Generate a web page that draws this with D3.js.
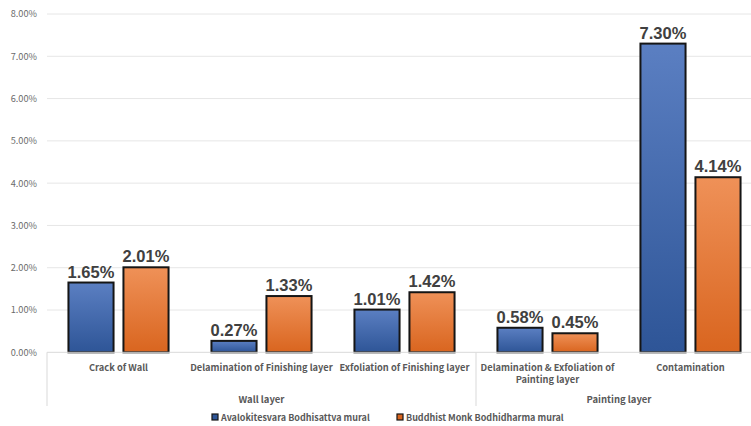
<!DOCTYPE html>
<html>
<head>
<meta charset="utf-8">
<script src="https://cdn.jsdelivr.net/npm/d3@7"></script>
<style>
  html, body { margin: 0; padding: 0; background: #fff; }
  svg { display: block; }
</style>
</head>
<body>
<svg id="chart" width="751" height="426"></svg>
<script>
// Damage ratios per category, two murals
const categories = [
  ["Crack of Wall"],
  ["Delamination of Finishing layer"],
  ["Exfoliation of Finishing layer"],
  ["Delamination & Exfoliation of", "Painting layer"],
  ["Contamination"]
];
const groups = [
  { name: "Wall layer", span: [0, 3] },
  { name: "Painting layer", span: [3, 5] }
];
const seriesNames = ["Avalokitesvara Bodhisattva mural", "Buddhist Monk Bodhidharma mural"];
const avalokitesvara = [1.65, 0.27, 1.01, 0.58, 7.30];
const bodhidharma = [2.01, 1.33, 1.42, 0.45, 4.14];
const yTicks = [0, 1, 2, 3, 4, 5, 6, 7, 8];

(function draw() {
  const series = [avalokitesvara, bodhidharma];
  const svg = d3.select("#chart");
  const labelFont = "'Noto Sans CJK KR', 'Noto Sans', sans-serif";

  const plotLeft = 47, plotRight = 762, plotTop = 14, plotBottom = 352.3;

  const x = d3.scaleBand().domain(d3.range(categories.length)).range([plotLeft, plotRight]).paddingInner(0.3).paddingOuter(0.15);
  const x1 = d3.scaleBand().domain(d3.range(series.length)).range([0, x.bandwidth()]).paddingInner(0.18);
  const y = d3.scaleLinear().domain([0, 8]).range([plotBottom, plotTop]);

  // gradients for the bars
  const defs = svg.append("defs");
  const gradStops = [
    ["#5b7fc2", "#2e5597"],
    ["#ef9158", "#d9651f"]
  ];
  gradStops.forEach((s, i) => {
    const g = defs.append("linearGradient").attr("id", "grad" + i).attr("x1", 0).attr("y1", 0).attr("x2", 0).attr("y2", 1);
    g.append("stop").attr("offset", "0%").attr("stop-color", s[0]);
    g.append("stop").attr("offset", "100%").attr("stop-color", s[1]);
  });

  // gridlines
  svg.append("g").selectAll("line").data(yTicks.filter(d => d > 0)).join("line")
    .attr("x1", plotLeft).attr("x2", 751)
    .attr("y1", d => y(d)).attr("y2", d => y(d))
    .attr("stroke", "#e6e6e6").attr("stroke-width", 1);

  // y axis labels
  const yAxis = d3.axisLeft(y).tickValues(yTicks).tickFormat(d => d.toFixed(2) + "%").tickSize(0).tickPadding(10);
  const gy = svg.append("g").attr("transform", `translate(${plotLeft},0)`).call(yAxis);
  gy.select(".domain").remove();
  gy.selectAll("text").attr("fill", "#6b6b6b").style("font-family", labelFont).style("font-size", "9.2px");

  // bars and value labels
  const gBars = svg.append("g");
  series.forEach((vals, si) => {
    gBars.selectAll(".bar" + si).data(vals).join("rect")
      .attr("class", "bar" + si)
      .attr("x", (d, i) => x(i) + x1(si))
      .attr("y", d => y(d))
      .attr("width", x1.bandwidth())
      .attr("height", d => plotBottom - y(d))
      .attr("fill", `url(#grad${si})`)
      .attr("stroke", "#151515").attr("stroke-width", 2);
    gBars.selectAll(".lab" + si).data(vals).join("text")
      .attr("class", "lab" + si)
      .attr("x", (d, i) => x(i) + x1(si) + x1.bandwidth() / 2)
      .attr("y", d => y(d) - 5)
      .attr("text-anchor", "middle")
      .attr("fill", "#404040")
      .style("font-family", "'Liberation Sans', Arial, sans-serif")
      .style("font-weight", "bold").style("font-size", "16.5px")
      .text(d => d.toFixed(2) + "%");
  });

  // category axis baseline
  svg.append("line").attr("x1", plotLeft).attr("x2", 751).attr("y1", plotBottom).attr("y2", plotBottom)
    .attr("stroke", "#d9d9d9").attr("stroke-width", 1);

  // group separators
  const step = x.step();
  const edgeX = i => plotLeft + i * step;
  svg.append("g").selectAll("line").data([0, 3, 5]).join("line")
    .attr("x1", d => edgeX(d)).attr("x2", d => edgeX(d))
    .attr("y1", plotBottom).attr("y2", 406)
    .attr("stroke", "#d9d9d9").attr("stroke-width", 1);

  // category labels
  const gCat = svg.append("g");
  categories.forEach((lines, i) => {
    const cx = x(i) + x.bandwidth() / 2;
    lines.forEach((l, k) => {
      gCat.append("text")
        .attr("x", cx)
        .attr("y", 370.5 + k * 12.8)
        .attr("text-anchor", "middle")
        .attr("fill", "#595959")
        .style("font-family", labelFont).style("font-size", "9.3px").style("font-weight", "bold")
        .text(l);
    });
  });

  // group labels
  svg.append("g").selectAll("text").data(groups).join("text")
    .attr("x", d => (edgeX(d.span[0]) + edgeX(d.span[1])) / 2)
    .attr("y", 403)
    .attr("text-anchor", "middle")
    .attr("fill", "#595959")
    .style("font-family", labelFont).style("font-size", "9.5px").style("font-weight", "bold")
    .text(d => d.name);

  // legend
  const legendX = [212, 397];
  const gLeg = svg.append("g");
  seriesNames.forEach((n, i) => {
    gLeg.append("rect").attr("x", legendX[i]).attr("y", 414).attr("width", 6).attr("height", 6)
      .attr("fill", gradStops[i][1]).attr("stroke", "#151515").attr("stroke-width", 1.2);
    gLeg.append("text").attr("x", legendX[i] + 9).attr("y", 421)
      .attr("fill", "#595959")
      .style("font-family", labelFont).style("font-size", "9px").style("font-weight", "bold")
      .text(n);
  });
})();
</script>
</body>
</html>
